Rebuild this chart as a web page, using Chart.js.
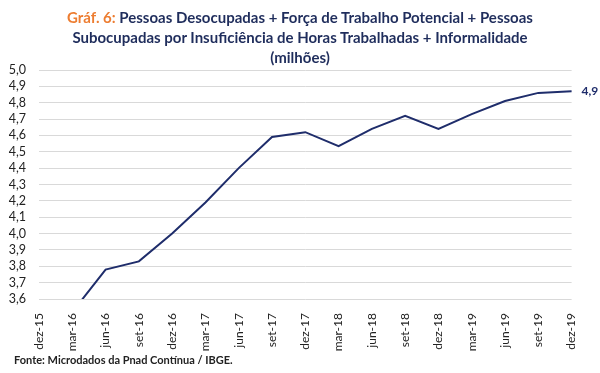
<!DOCTYPE html>
<html>
<head>
<meta charset="utf-8">
<script src="https://cdn.jsdelivr.net/npm/chart.js@4/dist/chart.umd.min.js"></script>
<style>
  html, body { margin: 0; padding: 0; background: #fff; }
  #wrap { position: relative; width: 600px; height: 373px; font-family: Lato, "Open Sans", sans-serif; }
  #title { position: absolute; left: 0; top: 7px; width: 600px; text-align: center; font-weight: bold; font-size: 15px; line-height: 20px; color: #1f2d5c; }
  #title .num { color: #ed7d31; }
  #fonte { position: absolute; left: 14px; top: 353px; font-weight: bold; font-size: 11px; color: #222; }
  canvas { position: absolute; left: 0; top: 0; }
</style>
</head>
<body>
<div id="wrap">
  <canvas id="graf6" width="600" height="373"></canvas>
  <div id="title"><span class="num">Gráf. 6:</span> Pessoas Desocupadas + Força de Trabalho Potencial + Pessoas<br>Subocupadas por Insuficiência de Horas Trabalhadas + Informalidade<br>(milhões)</div>
  <div id="fonte">Fonte: Microdados da Pnad Contínua / IBGE.</div>
</div>
<script>
const trimestres = ['dez-15','mar-16','jun-16','set-16','dez-16','mar-17','jun-17','set-17','dez-17','mar-18','jun-18','set-18','dez-18','mar-19','jun-19','set-19','dez-19']
const milhoes = [null, 3.52, 3.78, 3.83, 4.00, 4.19, 4.40, 4.59, 4.62, 4.535, 4.64, 4.72, 4.64, 4.73, 4.81, 4.86, 4.87]
const yMin = 3.6
const yMax = 5.0

const navy = '#1f2d6b'
const fmt = v => v.toFixed(1).replace('.', ',')

// rótulo do último ponto ("4,9")
const lastLabel = {
    id: 'lastLabel',
    afterDatasetsDraw(chart) {
        const meta = chart.getDatasetMeta(0)
        const i = milhoes.length - 1
        const pt = meta.data[i]
        const ctx = chart.ctx
        ctx.save()
        ctx.font = 'bold 12px Lato, sans-serif'
        ctx.fillStyle = navy
        ctx.textAlign = 'left'
        ctx.textBaseline = 'middle'
        ctx.fillText(fmt(milhoes[i]), pt.x + 10, pt.y)
        ctx.restore()
    }
}

new Chart(document.getElementById('graf6'), {
    type: 'line',
    data: {
        labels: trimestres,
        datasets: [{
            data: milhoes,
            borderColor: navy,
            borderWidth: 2,
            pointRadius: 0,
            tension: 0,
            fill: false
        }]
    },
    options: {
        responsive: false,
        animation: false,
        layout: { padding: { top: 70, right: 28, left: 0, bottom: 0 } },
        plugins: { legend: { display: false }, tooltip: { enabled: false } },
        scales: {
            x: {
                offset: false,
                grid: { display: false, drawTicks: false },
                border: { display: false },
                ticks: { autoSkip: false, minRotation: 90, maxRotation: 90, padding: 14, color: '#222', font: { family: 'Lato', size: 12 } },
                afterFit(scale) { scale.height = 74 }
            },
            y: {
                min: yMin,
                max: yMax,
                grid: { color: '#d9d9d9', lineWidth: 1, drawTicks: false },
                border: { display: false },
                ticks: { autoSkip: false, stepSize: 0.1, padding: 13, color: '#222', font: { family: 'Lato', size: 12.5 }, callback: v => fmt(v) },
                afterFit(scale) { scale.width = 39 }
            }
        }
    },
    plugins: [lastLabel]
})
</script>
</body>
</html>
